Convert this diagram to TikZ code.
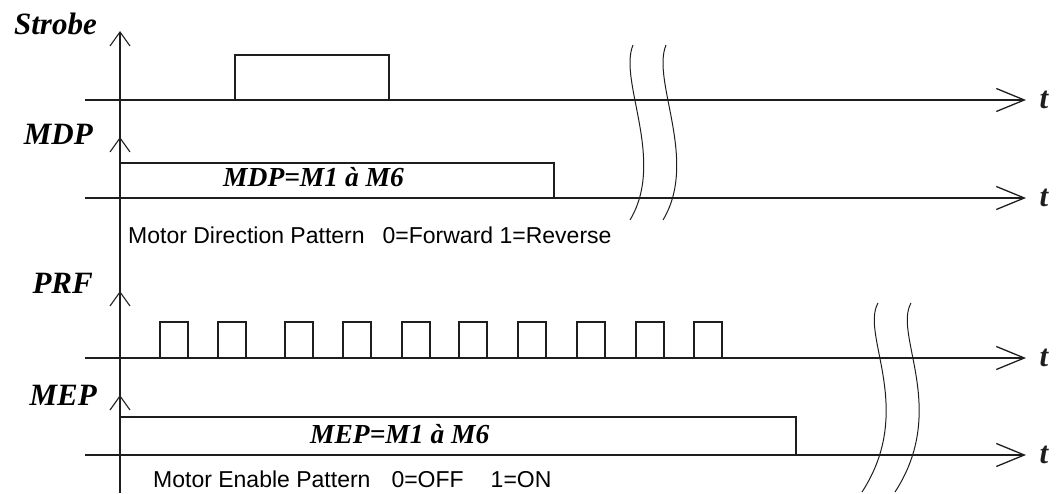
\documentclass[tikz,border=0pt]{standalone}
\usepackage{fontspec}
\usepackage{tikz}
\usetikzlibrary{arrows.meta, positioning}
\newfontfamily\sigfont{Liberation Serif}
\newfontfamily\notefont{Liberation Sans}
\definecolor{sigLine}{RGB}{30,30,30}
\begin{document}
\begin{tikzpicture}[x=1pt, y=1pt,
    sig/.style={line width=1.1pt, sigLine},
    taxis/.style={line width=1.3pt, sigLine, -{Straight Barb[length=28pt, width=23pt]}},
    siglbl/.style={font=\sigfont\bfseries\itshape\fontsize{31}{33}\selectfont, inner sep=0pt},
    inlbl/.style={font=\sigfont\bfseries\itshape\fontsize{27.5}{29}\selectfont, inner sep=0pt, anchor=base west},
    note/.style={font=\notefont\fontsize{23}{25}\selectfont, inner sep=0pt, anchor=base west}]
        \useasboundingbox (0,0) rectangle (1059,493);
        % vertical axis with its four chevrons
        \draw[line width=1.3pt, sigLine] (120,0) -- (120,461);
        \foreach \yy in {461,355,201,97}
          \draw[line width=1.1pt, sigLine] (110,\yy-14) -- (120,\yy) -- (130,\yy-14);
        % time axes
        \draw[taxis] (85,393) -- (1026,393) node[siglbl, anchor=west, xshift=13pt] (tStrobe) {t};
        \draw[taxis] (85,295) -- (1026,295) node[siglbl, anchor=west, xshift=13pt] (tMdp) {t};
        \draw[taxis] (85,135) -- (1026,135) node[siglbl, anchor=west, xshift=13pt] (tPrf) {t};
        \draw[taxis] (85,38) -- (1026,38) node[siglbl, anchor=west, xshift=13pt] (tMep) {t};
        % signal names
        \node[siglbl, anchor=base east] (strobeLbl) at (97,458) {Strobe};
        \node[siglbl, anchor=base east] (mdpLbl) at (93,348) {MDP};
        \node[siglbl, anchor=base east] (prfLbl) at (93,200) {PRF};
        \node[siglbl, anchor=base east] (mepLbl) at (97,88) {MEP};
        % Strobe
        \draw[sig] (235,393) -- (235,438) -- (389,438) -- (389,393);
        % MDP
        \draw[sig] (120,330) -- (554,330) -- (554,295);
        \node[inlbl] (mdpVal) at (223,306) {MDP=M1 à M6};
        \node[note] (mdpNote) at (128,249) {Motor Direction Pattern\hspace{18pt}0=Forward 1=Reverse};
        % PRF pulses
        \foreach \xx in {160,218,285,343,402,459,518,577,636,694}
          \draw[sig] (\xx,135) -- (\xx,171) -- (\xx+28,171) -- (\xx+28,135);
        % MEP
        \draw[sig] (120,76) -- (796,76) -- (796,38);
        \node[inlbl] (mepVal) at (310,50) {MEP=M1 à M6};
        \node[note] (mepNote) at (153,6) {Motor Enable Pattern\hspace{21pt}0=OFF\hspace{27pt}1=ON};
        % time breaks
        \draw[sig, line width=1pt] (633,448) .. controls (618,412) and (666,333) .. (630,273);
        \draw[sig, line width=1pt] (666,448) .. controls (651,412) and (699,333) .. (663,273);
        \draw[sig, line width=1pt] (878,190) .. controls (860,158) and (916,84) .. (862,1);
        \draw[sig, line width=1pt] (911,190) .. controls (893,158) and (949,84) .. (895,1);
      \end{tikzpicture}
\end{document}
